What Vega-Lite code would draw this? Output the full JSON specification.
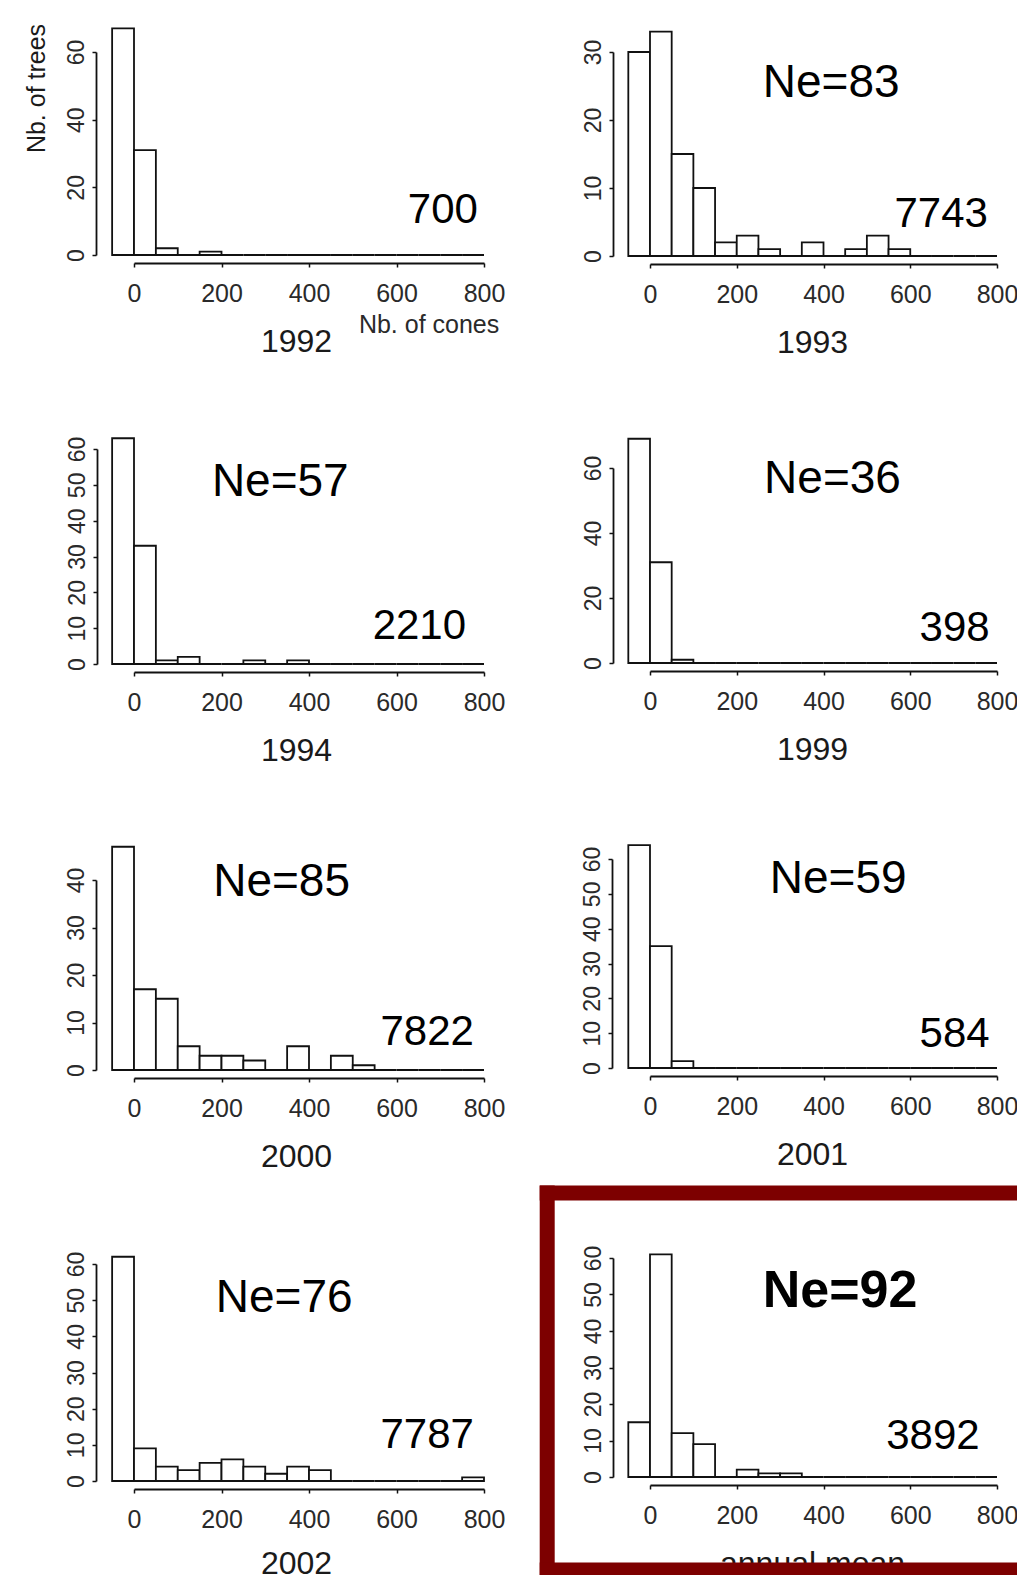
{
  "$schema": "https://vega.github.io/schema/vega-lite/v6.json",
  "padding": {"left": 24, "top": 23, "right": 0, "bottom": 0},
  "background": "white",
  "config": {
    "view": {"stroke": null},
    "font": "Liberation Sans",
    "axis": {"grid": false, "format": "d", "domainColor": "#111", "domainWidth": 1.8, "tickColor": "#111", "tickWidth": 1.5, "tickSize": 4, "labelColor": "#2a2a2a", "labelFont": "Liberation Sans", "labelFontSize": 23, "labelFlush": false, "labelOverlap": false, "labelSeparation": 0, "titleFont": "Liberation Sans", "titleFontWeight": "normal", "titleColor": "#1a1a1a"},
    "axisX": {"offset": 8, "labelPadding": 14, "labelFontSize": 25, "titleFontSize": 32, "titleX": 162, "titleY": 88, "titleAlign": "center", "titleBaseline": "alphabetic", "titleAngle": 0},
    "axisY": {"labelAngle": -90, "labelAlign": "center", "labelBaseline": "bottom", "labelPadding": 4},
    "text": {"font": "Liberation Sans", "color": "black"}
  },
  "datasets": {
    "hist": [
      {"panel": "1992", "start": -50, "end": 0, "count": 67}, {"panel": "1992", "start": 0, "end": 50, "count": 31}, {"panel": "1992", "start": 50, "end": 100, "count": 2}, {"panel": "1992", "start": 100, "end": 150, "count": 0}, {"panel": "1992", "start": 150, "end": 200, "count": 1}, {"panel": "1992", "start": 200, "end": 250, "count": 0}, {"panel": "1992", "start": 250, "end": 300, "count": 0}, {"panel": "1992", "start": 300, "end": 350, "count": 0}, {"panel": "1992", "start": 350, "end": 400, "count": 0}, {"panel": "1992", "start": 400, "end": 450, "count": 0}, {"panel": "1992", "start": 450, "end": 500, "count": 0}, {"panel": "1992", "start": 500, "end": 550, "count": 0}, {"panel": "1992", "start": 550, "end": 600, "count": 0}, {"panel": "1992", "start": 600, "end": 650, "count": 0}, {"panel": "1992", "start": 650, "end": 700, "count": 0}, {"panel": "1992", "start": 700, "end": 750, "count": 0}, {"panel": "1992", "start": 750, "end": 800, "count": 0},
      {"panel": "1993", "start": -50, "end": 0, "count": 30}, {"panel": "1993", "start": 0, "end": 50, "count": 33}, {"panel": "1993", "start": 50, "end": 100, "count": 15}, {"panel": "1993", "start": 100, "end": 150, "count": 10}, {"panel": "1993", "start": 150, "end": 200, "count": 2}, {"panel": "1993", "start": 200, "end": 250, "count": 3}, {"panel": "1993", "start": 250, "end": 300, "count": 1}, {"panel": "1993", "start": 300, "end": 350, "count": 0}, {"panel": "1993", "start": 350, "end": 400, "count": 2}, {"panel": "1993", "start": 400, "end": 450, "count": 0}, {"panel": "1993", "start": 450, "end": 500, "count": 1}, {"panel": "1993", "start": 500, "end": 550, "count": 3}, {"panel": "1993", "start": 550, "end": 600, "count": 1}, {"panel": "1993", "start": 600, "end": 650, "count": 0}, {"panel": "1993", "start": 650, "end": 700, "count": 0}, {"panel": "1993", "start": 700, "end": 750, "count": 0}, {"panel": "1993", "start": 750, "end": 800, "count": 0},
      {"panel": "1994", "start": -50, "end": 0, "count": 63}, {"panel": "1994", "start": 0, "end": 50, "count": 33}, {"panel": "1994", "start": 50, "end": 100, "count": 1}, {"panel": "1994", "start": 100, "end": 150, "count": 2}, {"panel": "1994", "start": 150, "end": 200, "count": 0}, {"panel": "1994", "start": 200, "end": 250, "count": 0}, {"panel": "1994", "start": 250, "end": 300, "count": 1}, {"panel": "1994", "start": 300, "end": 350, "count": 0}, {"panel": "1994", "start": 350, "end": 400, "count": 1}, {"panel": "1994", "start": 400, "end": 450, "count": 0}, {"panel": "1994", "start": 450, "end": 500, "count": 0}, {"panel": "1994", "start": 500, "end": 550, "count": 0}, {"panel": "1994", "start": 550, "end": 600, "count": 0}, {"panel": "1994", "start": 600, "end": 650, "count": 0}, {"panel": "1994", "start": 650, "end": 700, "count": 0}, {"panel": "1994", "start": 700, "end": 750, "count": 0}, {"panel": "1994", "start": 750, "end": 800, "count": 0},
      {"panel": "1999", "start": -50, "end": 0, "count": 69}, {"panel": "1999", "start": 0, "end": 50, "count": 31}, {"panel": "1999", "start": 50, "end": 100, "count": 1}, {"panel": "1999", "start": 100, "end": 150, "count": 0}, {"panel": "1999", "start": 150, "end": 200, "count": 0}, {"panel": "1999", "start": 200, "end": 250, "count": 0}, {"panel": "1999", "start": 250, "end": 300, "count": 0}, {"panel": "1999", "start": 300, "end": 350, "count": 0}, {"panel": "1999", "start": 350, "end": 400, "count": 0}, {"panel": "1999", "start": 400, "end": 450, "count": 0}, {"panel": "1999", "start": 450, "end": 500, "count": 0}, {"panel": "1999", "start": 500, "end": 550, "count": 0}, {"panel": "1999", "start": 550, "end": 600, "count": 0}, {"panel": "1999", "start": 600, "end": 650, "count": 0}, {"panel": "1999", "start": 650, "end": 700, "count": 0}, {"panel": "1999", "start": 700, "end": 750, "count": 0}, {"panel": "1999", "start": 750, "end": 800, "count": 0},
      {"panel": "2000", "start": -50, "end": 0, "count": 47}, {"panel": "2000", "start": 0, "end": 50, "count": 17}, {"panel": "2000", "start": 50, "end": 100, "count": 15}, {"panel": "2000", "start": 100, "end": 150, "count": 5}, {"panel": "2000", "start": 150, "end": 200, "count": 3}, {"panel": "2000", "start": 200, "end": 250, "count": 3}, {"panel": "2000", "start": 250, "end": 300, "count": 2}, {"panel": "2000", "start": 300, "end": 350, "count": 0}, {"panel": "2000", "start": 350, "end": 400, "count": 5}, {"panel": "2000", "start": 400, "end": 450, "count": 0}, {"panel": "2000", "start": 450, "end": 500, "count": 3}, {"panel": "2000", "start": 500, "end": 550, "count": 1}, {"panel": "2000", "start": 550, "end": 600, "count": 0}, {"panel": "2000", "start": 600, "end": 650, "count": 0}, {"panel": "2000", "start": 650, "end": 700, "count": 0}, {"panel": "2000", "start": 700, "end": 750, "count": 0}, {"panel": "2000", "start": 750, "end": 800, "count": 0},
      {"panel": "2001", "start": -50, "end": 0, "count": 64}, {"panel": "2001", "start": 0, "end": 50, "count": 35}, {"panel": "2001", "start": 50, "end": 100, "count": 2}, {"panel": "2001", "start": 100, "end": 150, "count": 0}, {"panel": "2001", "start": 150, "end": 200, "count": 0}, {"panel": "2001", "start": 200, "end": 250, "count": 0}, {"panel": "2001", "start": 250, "end": 300, "count": 0}, {"panel": "2001", "start": 300, "end": 350, "count": 0}, {"panel": "2001", "start": 350, "end": 400, "count": 0}, {"panel": "2001", "start": 400, "end": 450, "count": 0}, {"panel": "2001", "start": 450, "end": 500, "count": 0}, {"panel": "2001", "start": 500, "end": 550, "count": 0}, {"panel": "2001", "start": 550, "end": 600, "count": 0}, {"panel": "2001", "start": 600, "end": 650, "count": 0}, {"panel": "2001", "start": 650, "end": 700, "count": 0}, {"panel": "2001", "start": 700, "end": 750, "count": 0}, {"panel": "2001", "start": 750, "end": 800, "count": 0},
      {"panel": "2002", "start": -50, "end": 0, "count": 62}, {"panel": "2002", "start": 0, "end": 50, "count": 9}, {"panel": "2002", "start": 50, "end": 100, "count": 4}, {"panel": "2002", "start": 100, "end": 150, "count": 3}, {"panel": "2002", "start": 150, "end": 200, "count": 5}, {"panel": "2002", "start": 200, "end": 250, "count": 6}, {"panel": "2002", "start": 250, "end": 300, "count": 4}, {"panel": "2002", "start": 300, "end": 350, "count": 2}, {"panel": "2002", "start": 350, "end": 400, "count": 4}, {"panel": "2002", "start": 400, "end": 450, "count": 3}, {"panel": "2002", "start": 450, "end": 500, "count": 0}, {"panel": "2002", "start": 500, "end": 550, "count": 0}, {"panel": "2002", "start": 550, "end": 600, "count": 0}, {"panel": "2002", "start": 600, "end": 650, "count": 0}, {"panel": "2002", "start": 650, "end": 700, "count": 0}, {"panel": "2002", "start": 700, "end": 750, "count": 0}, {"panel": "2002", "start": 750, "end": 800, "count": 1},
      {"panel": "annual", "start": -50, "end": 0, "count": 15}, {"panel": "annual", "start": 0, "end": 50, "count": 61}, {"panel": "annual", "start": 50, "end": 100, "count": 12}, {"panel": "annual", "start": 100, "end": 150, "count": 9}, {"panel": "annual", "start": 150, "end": 200, "count": 0}, {"panel": "annual", "start": 200, "end": 250, "count": 2}, {"panel": "annual", "start": 250, "end": 300, "count": 1}, {"panel": "annual", "start": 300, "end": 350, "count": 1}, {"panel": "annual", "start": 350, "end": 400, "count": 0}, {"panel": "annual", "start": 400, "end": 450, "count": 0}, {"panel": "annual", "start": 450, "end": 500, "count": 0}, {"panel": "annual", "start": 500, "end": 550, "count": 0}, {"panel": "annual", "start": 550, "end": 600, "count": 0}, {"panel": "annual", "start": 600, "end": 650, "count": 0}, {"panel": "annual", "start": 650, "end": 700, "count": 0}, {"panel": "annual", "start": 700, "end": 750, "count": 0}, {"panel": "annual", "start": 750, "end": 800, "count": 0}
    ],
    "labels": [
      {"panel": "1992", "ne": "", "total": "700"},
      {"panel": "1993", "ne": "Ne=83", "total": "7743"},
      {"panel": "1994", "ne": "Ne=57", "total": "2210"},
      {"panel": "1999", "ne": "Ne=36", "total": "398"},
      {"panel": "2000", "ne": "Ne=85", "total": "7822"},
      {"panel": "2001", "ne": "Ne=59", "total": "584"},
      {"panel": "2002", "ne": "Ne=76", "total": "7787"},
      {"panel": "annual", "ne": "Ne=92", "total": "3892"}
    ]
  },
  "spacing": 31,
  "hconcat": [
    {
      "spacing": 79,
      "vconcat": [
        {
          "width": 350, "height": 203,
          "layer": [
            {"data": {"name": "hist"}, "transform": [{"filter": "datum.panel === '1992'"}],
             "mark": {"type": "rect", "fill": "white", "stroke": "#111", "strokeWidth": 1.8},
             "encoding": {
               "x": {"field": "start", "type": "quantitative", "scale": {"domain": [0, 800], "nice": false, "zero": false}, "axis": {"title": "1992", "values": [0, 200, 400, 600, 800], "format": "d", "tickCount": 50, "labelOverlap": false}},
               "x2": {"field": "end"},
               "y": {"field": "count", "type": "quantitative", "scale": {"domain": [0, 60], "nice": false, "zero": false}, "axis": {"values": [0, 20, 40, 60], "format": "d", "tickCount": 50, "labelOverlap": false, "offset": 38, "title": "Nb. of trees", "titleFontSize": 25, "titleAngle": 270, "titleAlign": "center", "titleBaseline": "alphabetic", "titleX": -52, "titleY": 36}},
               "y2": {"datum": 0}
             }},
            {"data": {"name": "labels"}, "transform": [{"filter": "datum.panel === '1992'"}],
             "mark": {"type": "text", "align": "right", "baseline": "alphabetic", "fontSize": 42},
             "encoding": {"x": {"datum": 786}, "y": {"datum": 9.46}, "text": {"field": "total"}}},
            {"data": {"name": "labels"}, "transform": [{"filter": "datum.panel === '1992'"}],
             "mark": {"type": "text", "align": "left", "baseline": "alphabetic", "fontSize": 25, "color": "#2a2a2a"},
             "encoding": {"x": {"datum": 514}, "y": {"datum": -23}, "text": {"value": "Nb. of cones"}}}
          ]
        },
        {
          "width": 350, "height": 215,
          "layer": [
            {"data": {"name": "hist"}, "transform": [{"filter": "datum.panel === '1994'"}],
             "mark": {"type": "rect", "fill": "white", "stroke": "#111", "strokeWidth": 1.8},
             "encoding": {
               "x": {"field": "start", "type": "quantitative", "scale": {"domain": [0, 800], "nice": false, "zero": false}, "axis": {"title": "1994", "values": [0, 200, 400, 600, 800], "format": "d", "tickCount": 50, "labelOverlap": false}},
               "x2": {"field": "end"},
               "y": {"field": "count", "type": "quantitative", "scale": {"domain": [0, 60], "nice": false, "zero": false}, "axis": {"values": [0, 10, 20, 30, 40, 50, 60], "format": "d", "tickCount": 50, "labelOverlap": false, "offset": 37, "title": null}},
               "y2": {"datum": 0}
             }},
            {"data": {"name": "labels"}, "transform": [{"filter": "datum.panel === '1994'"}],
             "mark": {"type": "text", "align": "left", "baseline": "alphabetic", "fontSize": 46},
             "encoding": {"x": {"datum": 178}, "y": {"datum": 46.9}, "text": {"field": "ne"}}},
            {"data": {"name": "labels"}, "transform": [{"filter": "datum.panel === '1994'"}],
             "mark": {"type": "text", "align": "right", "baseline": "alphabetic", "fontSize": 42},
             "encoding": {"x": {"datum": 759}, "y": {"datum": 7.0}, "text": {"field": "total"}}}
          ]
        },
        {
          "width": 350, "height": 190,
          "layer": [
            {"data": {"name": "hist"}, "transform": [{"filter": "datum.panel === '2000'"}],
             "mark": {"type": "rect", "fill": "white", "stroke": "#111", "strokeWidth": 1.8},
             "encoding": {
               "x": {"field": "start", "type": "quantitative", "scale": {"domain": [0, 800], "nice": false, "zero": false}, "axis": {"title": "2000", "values": [0, 200, 400, 600, 800], "format": "d", "tickCount": 50, "labelOverlap": false}},
               "x2": {"field": "end"},
               "y": {"field": "count", "type": "quantitative", "scale": {"domain": [0, 40], "nice": false, "zero": false}, "axis": {"values": [0, 10, 20, 30, 40], "format": "d", "tickCount": 50, "labelOverlap": false, "offset": 38, "title": null}},
               "y2": {"datum": 0}
             }},
            {"data": {"name": "labels"}, "transform": [{"filter": "datum.panel === '2000'"}],
             "mark": {"type": "text", "align": "left", "baseline": "alphabetic", "fontSize": 46},
             "encoding": {"x": {"datum": 181}, "y": {"datum": 36.6}, "text": {"field": "ne"}}},
            {"data": {"name": "labels"}, "transform": [{"filter": "datum.panel === '2000'"}],
             "mark": {"type": "text", "align": "right", "baseline": "alphabetic", "fontSize": 42},
             "encoding": {"x": {"datum": 777}, "y": {"datum": 5.3}, "text": {"field": "total"}}}
          ]
        },
        {
          "width": 350, "height": 217,
          "layer": [
            {"data": {"name": "hist"}, "transform": [{"filter": "datum.panel === '2002'"}],
             "mark": {"type": "rect", "fill": "white", "stroke": "#111", "strokeWidth": 1.8},
             "encoding": {
               "x": {"field": "start", "type": "quantitative", "scale": {"domain": [0, 800], "nice": false, "zero": false}, "axis": {"title": "2002", "titleY": 84, "values": [0, 200, 400, 600, 800], "format": "d", "tickCount": 50, "labelOverlap": false}},
               "x2": {"field": "end"},
               "y": {"field": "count", "type": "quantitative", "scale": {"domain": [0, 60], "nice": false, "zero": false}, "axis": {"values": [0, 10, 20, 30, 40, 50, 60], "format": "d", "tickCount": 50, "labelOverlap": false, "offset": 38, "title": null}},
               "y2": {"datum": 0}
             }},
            {"data": {"name": "labels"}, "transform": [{"filter": "datum.panel === '2002'"}],
             "mark": {"type": "text", "align": "left", "baseline": "alphabetic", "fontSize": 46},
             "encoding": {"x": {"datum": 187}, "y": {"datum": 46.7}, "text": {"field": "ne"}}},
            {"data": {"name": "labels"}, "transform": [{"filter": "datum.panel === '2002'"}],
             "mark": {"type": "text", "align": "right", "baseline": "alphabetic", "fontSize": 42},
             "encoding": {"x": {"datum": 777}, "y": {"datum": 9.1}, "text": {"field": "total"}}}
          ]
        }
      ]
    },
    {
      "spacing": 12,
      "vconcat": [
        {
          "spacing": 79,
          "vconcat": [
            {
              "width": 347, "height": 204,
              "layer": [
                {"data": {"name": "hist"}, "transform": [{"filter": "datum.panel === '1993'"}],
                 "mark": {"type": "rect", "fill": "white", "stroke": "#111", "strokeWidth": 1.8},
                 "encoding": {
                   "x": {"field": "start", "type": "quantitative", "scale": {"domain": [0, 800], "nice": false, "zero": false}, "axis": {"title": "1993", "values": [0, 200, 400, 600, 800], "format": "d", "tickCount": 50, "labelOverlap": false}},
                   "x2": {"field": "end"},
                   "y": {"field": "count", "type": "quantitative", "scale": {"domain": [0, 30], "nice": false, "zero": false}, "axis": {"values": [0, 10, 20, 30], "format": "d", "tickCount": 50, "labelOverlap": false, "offset": 37, "title": null}},
                   "y2": {"datum": 0}
                 }},
                {"data": {"name": "labels"}, "transform": [{"filter": "datum.panel === '1993'"}],
                 "mark": {"type": "text", "align": "left", "baseline": "alphabetic", "fontSize": 46},
                 "encoding": {"x": {"datum": 260}, "y": {"datum": 23.4}, "text": {"field": "ne"}}},
                {"data": {"name": "labels"}, "transform": [{"filter": "datum.panel === '1993'"}],
                 "mark": {"type": "text", "align": "right", "baseline": "alphabetic", "fontSize": 42},
                 "encoding": {"x": {"datum": 779}, "y": {"datum": 4.26}, "text": {"field": "total"}}}
              ]
            },
            {
              "width": 347, "height": 195,
              "layer": [
                {"data": {"name": "hist"}, "transform": [{"filter": "datum.panel === '1999'"}],
                 "mark": {"type": "rect", "fill": "white", "stroke": "#111", "strokeWidth": 1.8},
                 "encoding": {
                   "x": {"field": "start", "type": "quantitative", "scale": {"domain": [0, 800], "nice": false, "zero": false}, "axis": {"title": "1999", "values": [0, 200, 400, 600, 800], "format": "d", "tickCount": 50, "labelOverlap": false}},
                   "x2": {"field": "end"},
                   "y": {"field": "count", "type": "quantitative", "scale": {"domain": [0, 60], "nice": false, "zero": false}, "axis": {"values": [0, 20, 40, 60], "format": "d", "tickCount": 50, "labelOverlap": false, "offset": 37, "title": null}},
                   "y2": {"datum": 0}
                 }},
                {"data": {"name": "labels"}, "transform": [{"filter": "datum.panel === '1999'"}],
                 "mark": {"type": "text", "align": "left", "baseline": "alphabetic", "fontSize": 46},
                 "encoding": {"x": {"datum": 263}, "y": {"datum": 52.3}, "text": {"field": "ne"}}},
                {"data": {"name": "labels"}, "transform": [{"filter": "datum.panel === '1999'"}],
                 "mark": {"type": "text", "align": "right", "baseline": "alphabetic", "fontSize": 42},
                 "encoding": {"x": {"datum": 783}, "y": {"datum": 6.8}, "text": {"field": "total"}}}
              ]
            },
            {
              "width": 347, "height": 209,
              "layer": [
                {"data": {"name": "hist"}, "transform": [{"filter": "datum.panel === '2001'"}],
                 "mark": {"type": "rect", "fill": "white", "stroke": "#111", "strokeWidth": 1.8},
                 "encoding": {
                   "x": {"field": "start", "type": "quantitative", "scale": {"domain": [0, 800], "nice": false, "zero": false}, "axis": {"title": "2001", "values": [0, 200, 400, 600, 800], "format": "d", "tickCount": 50, "labelOverlap": false}},
                   "x2": {"field": "end"},
                   "y": {"field": "count", "type": "quantitative", "scale": {"domain": [0, 60], "nice": false, "zero": false}, "axis": {"values": [0, 10, 20, 30, 40, 50, 60], "format": "d", "tickCount": 50, "labelOverlap": false, "offset": 38, "title": null}},
                   "y2": {"datum": 0}
                 }},
                {"data": {"name": "labels"}, "transform": [{"filter": "datum.panel === '2001'"}],
                 "mark": {"type": "text", "align": "left", "baseline": "alphabetic", "fontSize": 46},
                 "encoding": {"x": {"datum": 276}, "y": {"datum": 50.3}, "text": {"field": "ne"}}},
                {"data": {"name": "labels"}, "transform": [{"filter": "datum.panel === '2001'"}],
                 "mark": {"type": "text", "align": "right", "baseline": "alphabetic", "fontSize": 42},
                 "encoding": {"x": {"datum": 783}, "y": {"datum": 6.0}, "text": {"field": "total"}}}
              ]
            }
          ]
        },
        {
          "width": 347, "height": 219,
          "layer": [
            {"data": {"name": "hist"}, "transform": [{"filter": "datum.panel === 'annual'"}],
             "mark": {"type": "rect", "fill": "white", "stroke": "#111", "strokeWidth": 1.8},
             "encoding": {
               "x": {"field": "start", "type": "quantitative", "scale": {"domain": [0, 800], "nice": false, "zero": false}, "axis": {"title": "annual mean", "values": [0, 200, 400, 600, 800], "format": "d", "tickCount": 50, "labelOverlap": false}},
               "x2": {"field": "end"},
               "y": {"field": "count", "type": "quantitative", "scale": {"domain": [0, 60], "nice": false, "zero": false}, "axis": {"values": [0, 10, 20, 30, 40, 50, 60], "format": "d", "tickCount": 50, "labelOverlap": false, "offset": 37, "title": null}},
               "y2": {"datum": 0}
             }},
            {"data": {"name": "labels"}, "transform": [{"filter": "datum.panel === 'annual'"}],
             "mark": {"type": "text", "align": "left", "baseline": "alphabetic", "fontSize": 52, "fontWeight": "bold"},
             "encoding": {"x": {"datum": 260}, "y": {"datum": 46.6}, "text": {"field": "ne"}}},
            {"data": {"name": "labels"}, "transform": [{"filter": "datum.panel === 'annual'"}],
             "mark": {"type": "text", "align": "right", "baseline": "alphabetic", "fontSize": 42},
             "encoding": {"x": {"datum": 760}, "y": {"datum": 7.7}, "text": {"field": "total"}}},
            {"data": {"name": "labels"}, "transform": [{"filter": "datum.panel === 'annual'"}],
             "mark": {"type": "rule", "color": "#7d0000", "strokeWidth": 15, "strokeCap": "square"},
             "encoding": {"x": {"datum": -237}, "y": {"datum": -25.5}, "y2": {"datum": 77.8}}},
            {"data": {"name": "labels"}, "transform": [{"filter": "datum.panel === 'annual'"}],
             "mark": {"type": "rule", "color": "#7d0000", "strokeWidth": 15, "strokeCap": "square"},
             "encoding": {"x": {"datum": -237}, "x2": {"datum": 840}, "y": {"datum": 77.8}}},
            {"data": {"name": "labels"}, "transform": [{"filter": "datum.panel === 'annual'"}],
             "mark": {"type": "rule", "color": "#7d0000", "strokeWidth": 15, "strokeCap": "square"},
             "encoding": {"x": {"datum": -237}, "x2": {"datum": 840}, "y": {"datum": -25.5}}}
          ]
        }
      ]
    }
  ]
}
